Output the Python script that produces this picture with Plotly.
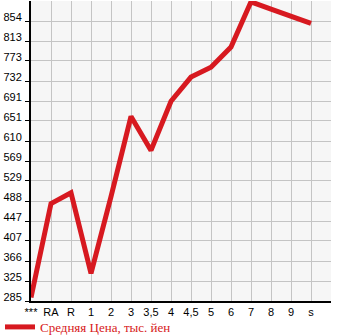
import plotly.graph_objects as go

categories = ["***", "RA", "R", "1", "2", "3", "3,5", "4", "4,5", "5", "6", "7", "8", "9", "s"]
avg_price = [292, 483, 505, 341, 497, 660, 591, 691, 740, 760, 801, 893, 878, 864, 849]
y_tick_labels = ["285", "325", "366", "407", "447", "488", "529", "569", "610", "651",
                 "691", "732", "773", "813", "854"]
series_name = "Средняя Цена, тыс. йен"

x_pos = list(range(len(categories)))
y_vals = [float(v) for v in y_tick_labels]
y_step = (y_vals[-1] - y_vals[0]) / (len(y_vals) - 1)

fig = go.Figure()
fig.add_trace(go.Scatter(
    x=x_pos, y=avg_price, mode="lines", name=series_name,
    line=dict(color="#d71920", width=5), cliponaxis=True,
))

fig.update_layout(
    width=345, height=335,
    margin=dict(l=31, r=14, t=1, b=34, autoexpand=False),
    paper_bgcolor="white", plot_bgcolor="#f6f6f6",
    showlegend=True,
    legend=dict(orientation="h", xref="container", yref="container",
                x=-0.025, xanchor="left", y=0.024, yanchor="middle",
                font=dict(family="Liberation Serif", size=13, color="#d71920"),
                bgcolor="rgba(0,0,0,0)", itemwidth=30),
    font=dict(family="Liberation Sans", size=11, color="black"),
)
fig.update_xaxes(
    range=[0, len(categories)],
    tickvals=x_pos + [len(categories)], ticktext=categories + [""],
    showgrid=True, gridcolor="#c4c4c4", gridwidth=1,
    showline=True, linecolor="black", linewidth=2,
    ticks="", zeroline=False, fixedrange=True, automargin=False,
)
fig.update_yaxes(
    range=[y_vals[0], y_vals[-1] + y_step],
    tickvals=y_vals, ticktext=y_tick_labels,
    showgrid=True, gridcolor="#c4c4c4", gridwidth=1,
    showline=True, linecolor="black", linewidth=2,
    ticks="outside", ticklen=4, tickcolor="black", tickwidth=1,
    ticklabelstandoff=1, ticklabelshift=-4,
    zeroline=False, fixedrange=True, automargin=False,
)

fig.write_html("out.html")
